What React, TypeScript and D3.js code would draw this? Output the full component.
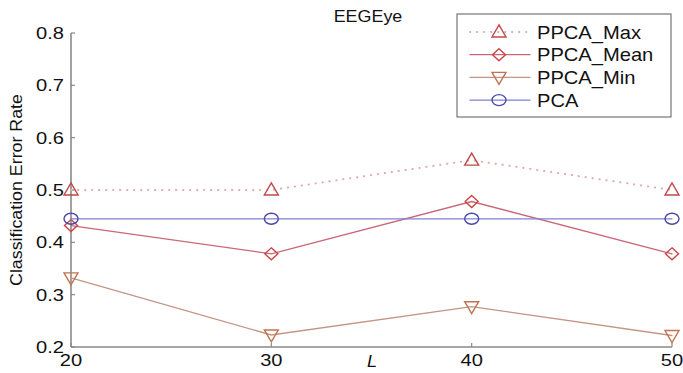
import React from 'react';
import * as d3 from 'd3';

// values
const lValues = [20, 30, 40, 50];
const ppcaMax = [0.5, 0.5, 0.557, 0.5];
const ppcaMean = [0.432, 0.378, 0.478, 0.378];
const ppcaMin = [0.332, 0.223, 0.277, 0.222];
const pca = [0.445, 0.445, 0.445, 0.445];
const yTicks = [0.2, 0.3, 0.4, 0.5, 0.6, 0.7, 0.8];
const xTicks = [20, 30, 40, 50];

const series = [
  { name: 'PPCA_Max', values: ppcaMax, line: '#e0aab2', marker: '#c2474a', dash: '0.3 6.7', shape: 'up' },
  { name: 'PPCA_Mean', values: ppcaMean, line: '#c9677a', marker: '#c94545', dash: '', shape: 'diamond' },
  { name: 'PPCA_Min', values: ppcaMin, line: '#c49484', marker: '#c27352', dash: '', shape: 'down' },
  { name: 'PCA', values: pca, line: '#8080d0', marker: '#4848a8', dash: '', shape: 'circle' },
];

const font = '"Liberation Sans", Arial, sans-serif';

function Marker({ shape, x, y, color }: { shape: string; x: number; y: number; color: string }) {
  const common = { fill: 'none', stroke: color, strokeWidth: 1.4 };
  if (shape === 'up') return <path d={`M${x - 7},${y + 5} L${x + 7},${y + 5} L${x},${y - 7} Z`} {...common} />;
  if (shape === 'down') return <path d={`M${x - 7},${y - 5} L${x + 7},${y - 5} L${x},${y + 7} Z`} {...common} />;
  if (shape === 'diamond') return <path d={`M${x},${y - 6} L${x + 6.5},${y} L${x},${y + 6} L${x - 6.5},${y} Z`} {...common} />;
  return <ellipse cx={x} cy={y} rx={7} ry={5.5} {...common} />;
}

function SText({ x, y, size, sx = 1.2, anchor = 'start', children, italic = false }: any) {
  return (
    <text
      transform={`translate(${x},${y}) scale(${sx},1)`}
      fontSize={size}
      fontFamily={font}
      textAnchor={anchor}
      fontStyle={italic ? 'italic' : 'normal'}
      fill="#111"
    >
      {children}
    </text>
  );
}

export default function App() {
  const width = 683, height = 373;
  const x = d3.scaleLinear().domain([20, 50]).range([71, 672]);
  const y = d3.scaleLinear().domain([0.2, 0.8]).range([347, 33]);
  const line = d3.line<number>().x((_, i) => x(lValues[i])).y(d => y(d));

  return (
    <svg width={width} height={height} style={{ position: 'absolute', left: 0, top: 0, background: '#fff' }}>
      {/* title */}
      <SText x={368} y={22} size={16} sx={1.12} anchor="middle">EEGEye</SText>

      {/* axes */}
      <line x1={x(20)} x2={x(20)} y1={y(0.8)} y2={y(0.2)} stroke="#8a8a8a" strokeWidth={1.6} />
      <line x1={x(20)} x2={x(50)} y1={y(0.2)} y2={y(0.2)} stroke="#8a8a8a" strokeWidth={1.6} />
      {yTicks.map(t => (
        <g key={t}>
          <line x1={x(20)} x2={x(20) + 4} y1={y(t)} y2={y(t)} stroke="#8a8a8a" strokeWidth={1.2} />
          <SText x={64} y={y(t) + 6} size={16.5} sx={1.22} anchor="end">{t.toFixed(1)}</SText>
        </g>
      ))}
      {xTicks.map(t => (
        <g key={t}>
          <line x1={x(t)} x2={x(t)} y1={y(0.2)} y2={y(0.2) - 4} stroke="#8a8a8a" strokeWidth={1.2} />
          <SText x={x(t)} y={366} size={16.5} sx={1.22} anchor="middle">{t}</SText>
        </g>
      ))}
      <SText x={372} y={367} size={16.5} sx={1.1} anchor="middle" italic>L</SText>
      <text
        transform={`translate(22,190) rotate(-90) scale(1.08,1)`}
        fontSize={16.5}
        fontFamily={font}
        textAnchor="middle"
        fill="#111"
      >
        Classification Error Rate
      </text>

      {/* series */}
      {series.map(s => (
        <g key={s.name}>
          <path d={line(s.values) || ''} fill="none" stroke={s.line} strokeWidth={s.dash ? 2 : 1.3} strokeDasharray={s.dash || undefined} strokeLinecap="round" />
          {s.values.map((v, i) => (
            <Marker key={i} shape={s.shape} x={x(lValues[i])} y={y(v)} color={s.marker} />
          ))}
        </g>
      ))}

      {/* legend */}
      <rect x={457} y={14} width={214} height={103} fill="#fff" stroke="#777" strokeWidth={1.2} />
      {series.map((s, i) => {
        const ly = 32 + i * 22.7;
        return (
          <g key={s.name}>
            <line x1={470} x2={530} y1={ly} y2={ly} stroke={s.line} strokeWidth={s.dash ? 2 : 1.3} strokeDasharray={s.dash || undefined} strokeLinecap="round" />
            <Marker shape={s.shape} x={499} y={ly} color={s.marker} />
            <SText x={537} y={ly + 6.5} size={17.5} sx={1.15}>{s.name}</SText>
          </g>
        );
      })}
    </svg>
  );
}
